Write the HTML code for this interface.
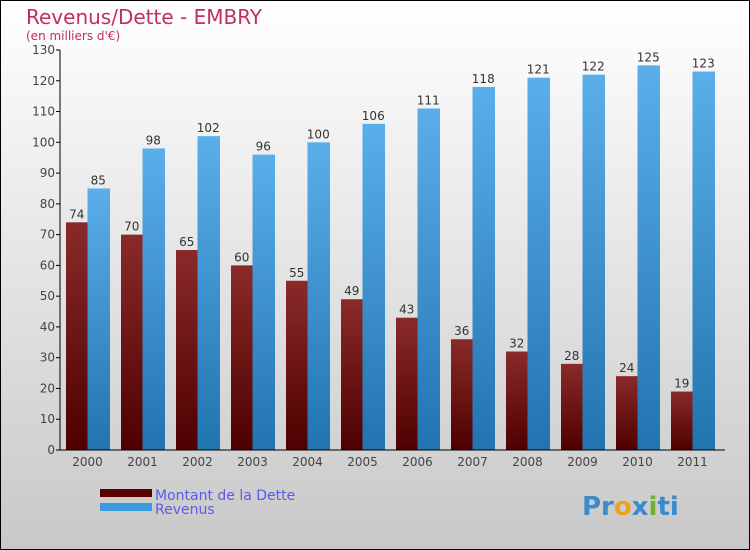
<!DOCTYPE html>
<html><head><meta charset="utf-8"><style>
body{margin:0;}
svg{display:block;font-family:"DejaVu Sans","Liberation Sans",sans-serif;}
</style></head><body>
<svg id="c" width="750" height="550">
<defs>
<linearGradient id="bg" x1="0" y1="0" x2="0" y2="1"><stop offset="0" stop-color="#ffffff"/><stop offset="1" stop-color="#c8c8c8"/></linearGradient>
<linearGradient id="gd" x1="0" y1="0" x2="0" y2="1"><stop offset="0" stop-color="#8a2a2a"/><stop offset="1" stop-color="#4e0000"/></linearGradient>
<linearGradient id="gr" x1="0" y1="0" x2="0" y2="1"><stop offset="0" stop-color="#5aaeea"/><stop offset="1" stop-color="#2274b0"/></linearGradient>
</defs>
<rect x="0.5" y="0.5" width="749" height="549" fill="url(#bg)" stroke="#000"/>
<text x="26" y="24" font-size="20" fill="#c0305a">Revenus/Dette - EMBRY</text>
<text x="26" y="40" font-size="12" fill="#c0305a">(en milliers d'€)</text>
<g id="plot"></g>
<rect x="100" y="489" width="52" height="8" fill="#5a0000"/>
<rect x="100" y="503" width="52" height="8" fill="#3a9ae0"/>
<text x="155" y="500" font-size="14" fill="#5a5aee">Montant de la Dette</text>
<text x="155" y="514" font-size="14" fill="#5a5aee">Revenus</text>
<text x="582" y="515" font-size="26" font-weight="bold"><tspan fill="#3a8ad0">Pr</tspan><tspan fill="#f0a020">o</tspan><tspan fill="#3a8ad0">x</tspan><tspan fill="#70b030">i</tspan><tspan fill="#3a8ad0">ti</tspan></text>
</svg>
<script>
const years=["2000","2001","2002","2003","2004","2005","2006","2007","2008","2009","2010","2011"];
const dette=[74,70,65,60,55,49,43,36,32,28,24,19];
const revenus=[85,98,102,96,100,106,111,118,121,122,125,123];
const ticks=[0,10,20,30,40,50,60,70,80,90,100,110,120,130];
const NS="http://www.w3.org/2000/svg";
const g=document.getElementById('plot');
const x0=60,step=55,y0=450,ymax=130,ph=400,bw=21.5;
const y=v=>y0-v/ymax*ph;
function mk(t,a,txt){const e=document.createElementNS(NS,t);for(const k in a)e.setAttribute(k,a[k]);if(txt!==undefined)e.textContent=txt;g.appendChild(e);return e;}
ticks.forEach(t=>{
 const l=mk('line',{x1:x0-4,x2:x0,y1:y(t),y2:y(t),stroke:'#000'});
 
 
 const tx=mk('text',{x:x0-5,y:y(t)+4,'text-anchor':'end','font-size':12,fill:'#444'},t);
 
 
});
years.forEach((yr,i)=>{
 const gx=x0+i*step+6;
 const b1=mk('rect',{x:gx,y:y(dette[i]),width:bw,height:y0-y(dette[i]),fill:'url(#gd)'});
 
 
 const b2=mk('rect',{x:gx+bw,y:y(revenus[i]),width:bw+1,height:y0-y(revenus[i]),fill:'url(#gr)'});
 
 
 const l1=mk('text',{x:gx+bw/2,y:y(dette[i])-4,'text-anchor':'middle','font-size':12,fill:'#333'},dette[i]);
 
 
 const l2=mk('text',{x:gx+bw*1.5,y:y(revenus[i])-4,'text-anchor':'middle','font-size':12,fill:'#333'},revenus[i]);
 
 
 const xl=mk('text',{x:x0+i*step+step/2,y:y0+16,'text-anchor':'middle','font-size':12,fill:'#444'},yr);
 
 
});
const ya=mk('line',{x1:x0,x2:x0,y1:y(130),y2:y0,stroke:'#000'});


const xa=mk('line',{x1:x0,x2:725,y1:y0,y2:y0,stroke:'#000'});


</script>
</body></html>
